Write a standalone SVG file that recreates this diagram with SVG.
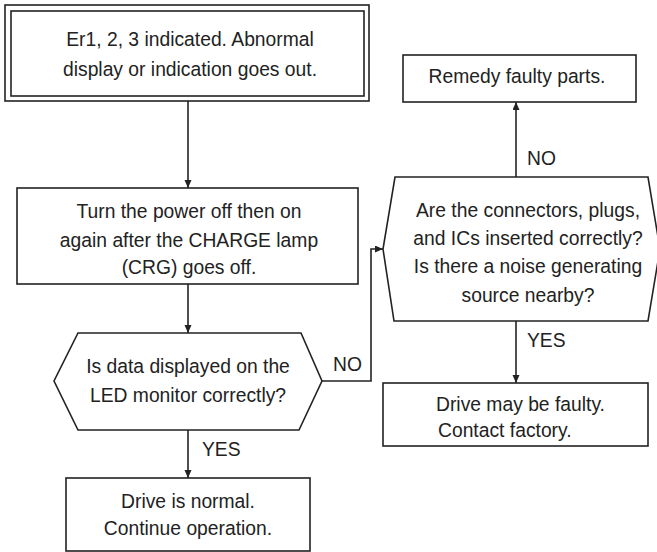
<svg xmlns="http://www.w3.org/2000/svg" width="657" height="552" viewBox="0 0 657 552">
  <defs>
    <style>
      .shape { fill: #fff; stroke: #222; stroke-width: 1.6; }
      .conn { fill: none; stroke: #222; stroke-width: 1.6; }
      text { font-family: "Liberation Sans", Arial, sans-serif; font-size: 19.3px; fill: #222; }
      .c { text-anchor: middle; }
    </style>
    <marker id="arr" markerWidth="9" markerHeight="8" refX="8" refY="3.5" orient="auto" markerUnits="userSpaceOnUse">
      <path d="M0,0 L8,3.5 L0,7 z" fill="#222"/>
    </marker>
  </defs>
  <rect width="657" height="552" fill="#fff"/>

  <g id="start">
    <rect class="shape" x="5" y="5" width="364" height="96"/>
    <rect class="shape" x="11" y="11" width="353" height="85"/>
    <text class="c" x="190" y="46">Er1, 2, 3 indicated. Abnormal</text>
    <text class="c" x="190" y="76">display or indication goes out.</text>
  </g>

  <g id="power-cycle">
    <rect class="shape" x="17" y="188" width="341" height="96"/>
    <text class="c" x="189" y="218">Turn the power off then on</text>
    <text class="c" x="189" y="247">again after the CHARGE lamp</text>
    <text class="c" x="189" y="274">(CRG) goes off.</text>
  </g>

  <g id="check-display">
    <polygon class="shape" points="78,333 301,333 322,381 299,430 78,430 54,381"/>
    <text class="c" x="188" y="373">Is data displayed on the</text>
    <text class="c" x="188" y="402">LED monitor correctly?</text>
  </g>

  <g id="normal">
    <rect class="shape" x="66" y="478" width="244" height="73"/>
    <text class="c" x="188" y="508">Drive is normal.</text>
    <text class="c" x="188" y="535">Continue operation.</text>
  </g>

  <g id="check-connectors">
    <polygon class="shape" points="395,177 648,177 660,249 648,321 394,321 383,249"/>
    <text class="c" x="528" y="217">Are the connectors, plugs,</text>
    <text class="c" x="528" y="245">and ICs inserted correctly?</text>
    <text class="c" x="528" y="273">Is there a noise generating</text>
    <text class="c" x="528" y="302">source nearby?</text>
  </g>

  <g id="remedy">
    <rect class="shape" x="403" y="55" width="233" height="47"/>
    <text class="c" x="517" y="83">Remedy faulty parts.</text>
  </g>

  <g id="faulty">
    <rect class="shape" x="383" y="383" width="265" height="63"/>
    <text x="436" y="411">Drive may be faulty.</text>
    <text x="438" y="437">Contact factory.</text>
  </g>

  <g id="connectors">
    <line class="conn" x1="188" y1="101" x2="188" y2="188" marker-end="url(#arr)"/>
    <line class="conn" x1="188" y1="284" x2="188" y2="333" marker-end="url(#arr)"/>
    <line class="conn" x1="188" y1="430" x2="188" y2="478" marker-end="url(#arr)"/>
    <path class="conn" d="M322,381 H371 V249 H383" marker-end="url(#arr)"/>
    <line class="conn" x1="516" y1="177" x2="516" y2="102" marker-end="url(#arr)"/>
    <line class="conn" x1="516" y1="321" x2="516" y2="383" marker-end="url(#arr)"/>
    <text x="202" y="456">YES</text>
    <text x="333" y="371">NO</text>
    <text x="527" y="165">NO</text>
    <text x="527" y="347">YES</text>
  </g>
</svg>
